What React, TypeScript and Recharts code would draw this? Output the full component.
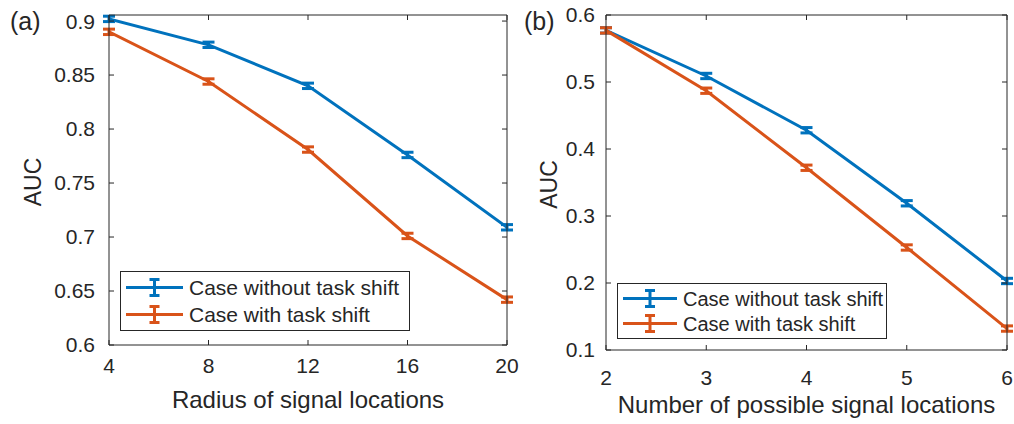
import { LineChart, Line, XAxis, YAxis, ErrorBar, Label } from 'recharts';

const BLUE = '#0072BD';
const ORANGE = '#D95319';
const INK = '#262626';
const FONT = '"Liberation Sans", Arial, Helvetica, sans-serif';

// (a) AUC vs radius of signal locations
const radius = [4, 8, 12, 16, 20];
const aucNoShiftA = [0.902, 0.878, 0.84, 0.776, 0.709];
const errNoShiftA = [0.0025, 0.0025, 0.0025, 0.0025, 0.0025];
const aucShiftA = [0.89, 0.844, 0.781, 0.701, 0.642];
const errShiftA = [0.0025, 0.0025, 0.0025, 0.0025, 0.0025];
const yTicksA = [0.6, 0.65, 0.7, 0.75, 0.8, 0.85, 0.9];

// (b) AUC vs number of possible signal locations
const numLocations = [2, 3, 4, 5, 6];
const aucNoShiftB = [0.577, 0.509, 0.428, 0.319, 0.203];
const errNoShiftB = [0.004, 0.004, 0.004, 0.004, 0.004];
const aucShiftB = [0.577, 0.487, 0.372, 0.253, 0.132];
const errShiftB = [0.004, 0.004, 0.004, 0.004, 0.004];
const yTicksB = [0.1, 0.2, 0.3, 0.4, 0.5, 0.6];

const legendNames = ['Case without task shift', 'Case with task shift'];

const buildRows = (xs: number[], a: number[], ae: number[], b: number[], be: number[]) =>
  xs.map((x, i) => ({ x, noShift: a[i], noShiftErr: ae[i], shift: b[i], shiftErr: be[i] }));

const dataA = buildRows(radius, aucNoShiftA, errNoShiftA, aucShiftA, errShiftA);
const dataB = buildRows(numLocations, aucNoShiftB, errNoShiftB, aucShiftB, errShiftB);

// legend box with a line + error-bar glyph per entry
const ErrorLegend = ({ w, h, fontSize, lineEnd }: { w: number; h: number; fontSize: number; lineEnd: number }) => {
  const rowH = (h - 6) / 2;
  const mid = (6 + lineEnd) / 2;
  return (
    <svg width={w} height={h} style={{ display: 'block' }}>
      <rect x={0.5} y={0.5} width={w - 1} height={h - 1} fill="#fff" stroke={INK} strokeWidth={1} />
      {[BLUE, ORANGE].map((c, i) => {
        const cy = 3 + rowH * i + rowH / 2;
        return (
          <g key={i}>
            <line x1={6} x2={lineEnd} y1={cy} y2={cy} stroke={c} strokeWidth={3} />
            <line x1={mid} x2={mid} y1={cy - 8} y2={cy + 8} stroke={c} strokeWidth={3} />
            <line x1={mid - 5} x2={mid + 5} y1={cy - 8} y2={cy - 8} stroke={c} strokeWidth={3} />
            <line x1={mid - 5} x2={mid + 5} y1={cy + 8} y2={cy + 8} stroke={c} strokeWidth={3} />
            <text x={lineEnd + 6} y={cy} dy="0.36em" fontSize={fontSize} fill={INK} fontFamily={FONT}>
              {legendNames[i]}
            </text>
          </g>
        );
      })}
    </svg>
  );
};

type PanelProps = {
  data: any[];
  left: number;
  width: number;
  axisLeft: number;
  axisRight: number;
  axisBottom: number;
  xDomain: [number, number];
  yDomain: [number, number];
  yTicks: number[];
  yMargin: number;
  xMargin: number;
  xLabel: string;
  xLabelOffset: number;
  yLabelX: number;
  legend: { left: number; top: number; width: number; height: number; font: number; lineEnd: number };
  tag: string;
  tagX: number;
};

const Panel = (p: PanelProps) => {
  const top = 15;
  const tickStyle = { fontSize: 21, fill: INK, fontFamily: FONT };
  const xTicks = p.data.map((d) => d.x);
  return (
    <div style={{ position: 'absolute', left: p.left, top: 0, width: p.width, height: 424 }}>
      <LineChart
        width={p.width}
        height={424}
        data={p.data}
        margin={{ top: top - 1, right: p.left + p.width - p.axisRight - 1, bottom: 0, left: 0 }}
      >
        <XAxis
          xAxisId="b"
          dataKey="x"
          type="number"
          domain={p.xDomain}
          ticks={xTicks}
          allowDataOverflow
          height={424 - p.axisBottom}
          stroke={INK}
          tickSize={-5}
          tickMargin={p.xMargin}
          tick={tickStyle}
        >
          <Label
            value={p.xLabel}
            position="insideBottom"
            offset={p.xLabelOffset}
            style={{ fontSize: 24, fill: INK, fontFamily: FONT }}
          />
        </XAxis>
        {/* top and right axes only close the frame and carry inward ticks */}
        <XAxis
          xAxisId="t"
          orientation="top"
          dataKey="x"
          type="number"
          domain={p.xDomain}
          ticks={xTicks}
          allowDataOverflow
          height={1}
          stroke={INK}
          tickSize={-5}
          tickFormatter={() => ''}
        />
        <YAxis
          yAxisId="l"
          type="number"
          domain={p.yDomain}
          ticks={p.yTicks}
          allowDataOverflow
          width={p.axisLeft - p.left}
          stroke={INK}
          tickSize={-5}
          tickMargin={p.yMargin}
          tick={tickStyle}
          tickFormatter={(v: number) => String(+v.toFixed(2))}
        >
          <Label
            content={({ viewBox }: any) => {
              const cx = p.yLabelX - p.left;
              const cy = viewBox.y + viewBox.height / 2 + 2;
              return (
                <text
                  x={cx}
                  y={cy}
                  transform={`rotate(-90, ${cx}, ${cy})`}
                  textAnchor="middle"
                  dy="0.36em"
                  fontSize={23}
                  fill={INK}
                  fontFamily={FONT}
                >
                  AUC
                </text>
              );
            }}
          />
        </YAxis>
        <YAxis
          yAxisId="r"
          orientation="right"
          type="number"
          domain={p.yDomain}
          ticks={p.yTicks}
          allowDataOverflow
          width={1}
          stroke={INK}
          tickSize={-5}
          tickFormatter={() => ''}
        />
        <Line
          xAxisId="t"
          yAxisId="r"
          dataKey="noShift"
          stroke="none"
          dot={false}
          activeDot={false}
          isAnimationActive={false}
        />
        <Line
          xAxisId="b"
          yAxisId="l"
          dataKey="noShift"
          stroke={BLUE}
          strokeWidth={3}
          dot={false}
          isAnimationActive={false}
        >
          <ErrorBar dataKey="noShiftErr" direction="y" width={6} stroke={BLUE} strokeWidth={3} isAnimationActive={false} />
        </Line>
        <Line
          xAxisId="b"
          yAxisId="l"
          dataKey="shift"
          stroke={ORANGE}
          strokeWidth={3}
          dot={false}
          isAnimationActive={false}
        >
          <ErrorBar dataKey="shiftErr" direction="y" width={6} stroke={ORANGE} strokeWidth={3} isAnimationActive={false} />
        </Line>
      </LineChart>
      <div style={{ position: 'absolute', left: p.legend.left - p.left, top: p.legend.top }}>
        <ErrorLegend w={p.legend.width} h={p.legend.height} fontSize={p.legend.font} lineEnd={p.legend.lineEnd} />
      </div>
      <div
        style={{
          position: 'absolute',
          left: p.tagX - p.left,
          top: 6,
          fontSize: 25,
          fontFamily: FONT,
          color: INK,
          lineHeight: '30px',
        }}
      >
        {p.tag}
      </div>
    </div>
  );
};

export default function App() {
  return (
    <div style={{ position: 'absolute', left: 0, top: 0, width: 1014, height: 424, background: '#fff' }}>
      <Panel
        data={dataA}
        left={0}
        width={520}
        axisLeft={109}
        axisRight={507}
        axisBottom={345}
        xDomain={[4, 20]}
        yDomain={[0.6, 0.9056]}
        yTicks={yTicksA}
        yMargin={19}
        xMargin={18}
        xLabel="Radius of signal locations"
        xLabelOffset={16}
        yLabelX={33}
        legend={{ left: 120, top: 271, width: 290, height: 60, font: 21, lineEnd: 63 }}
        tag="(a)"
        tagX={10}
      />
      <Panel
        data={dataB}
        left={520}
        width={494}
        axisLeft={606}
        axisRight={1007}
        axisBottom={350}
        xDomain={[2, 6]}
        yDomain={[0.1, 0.6]}
        yTicks={yTicksB}
        yMargin={16}
        xMargin={25}
        xLabel="Number of possible signal locations"
        xLabelOffset={11}
        yLabelX={549}
        legend={{ left: 617, top: 283, width: 270, height: 56, font: 20, lineEnd: 60 }}
        tag="(b)"
        tagX={524}
      />
    </div>
  );
}
